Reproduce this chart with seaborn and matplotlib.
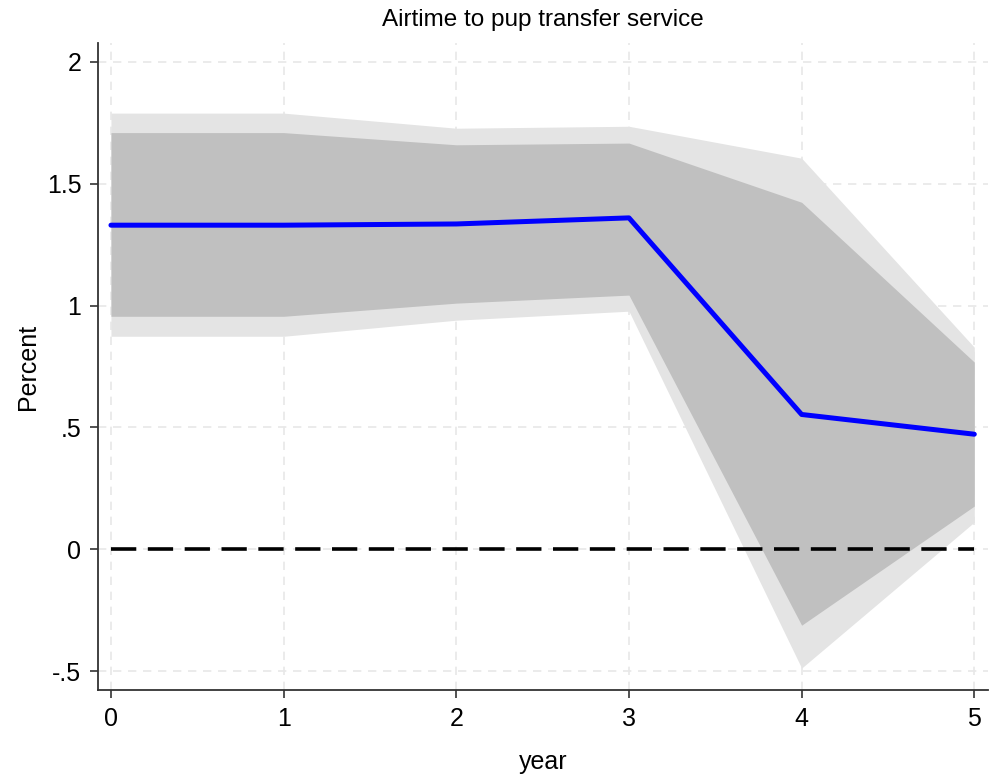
import matplotlib
matplotlib.use("Agg")
import matplotlib.pyplot as plt
import seaborn as sns
import pandas as pd
from matplotlib import font_manager

years = [0, 1, 2, 3, 4, 5]
irf = [1.33, 1.33, 1.335, 1.36, 0.553, 0.472]
inner_upper = [1.71, 1.71, 1.66, 1.667, 1.424, 0.768]
inner_lower = [0.956, 0.956, 1.01, 1.043, -0.312, 0.177]
outer_upper = [1.79, 1.79, 1.728, 1.736, 1.605, 0.829]
outer_lower = [0.874, 0.874, 0.94, 0.977, -0.488, 0.111]
yticks = [-0.5, 0, 0.5, 1, 1.5, 2]
ytick_labels = ["-.5", "0", ".5", "1", "1.5", "2"]
xticks = [0, 1, 2, 3, 4, 5]

sns.set_theme(style="white")
names = {f.name for f in font_manager.fontManager.ttflist}
fam = "Liberation Sans Narrow" if "Liberation Sans Narrow" in names else "Liberation Sans"
plt.rcParams["font.family"] = [fam, "DejaVu Sans"]
plt.rcParams["text.color"] = "black"
plt.rcParams["axes.labelcolor"] = "black"
plt.rcParams["xtick.color"] = "black"
plt.rcParams["ytick.color"] = "black"

df = pd.DataFrame({"year": years, "irf": irf, "zero": [0] * len(years)})

fig = plt.figure(figsize=(9.99, 7.81), dpi=100)
ax = fig.add_axes([0.0981, 0.1165, 0.891, 0.8285])

ax.fill_between(years, outer_lower, outer_upper, color="#e4e4e4", lw=0, zorder=1)
ax.fill_between(years, inner_lower, inner_upper, color="#c0c0c0", lw=0, zorder=2)
sns.lineplot(data=df, x="year", y="zero", ax=ax, color="black", lw=2.6,
             dashes=False, zorder=3)
ax.lines[-1].set_dashes([7, 3.2])
sns.lineplot(data=df, x="year", y="irf", ax=ax, color="#0000ff", lw=3.6, zorder=4)

ax.set_xlim(-0.075, 5.08)
ax.set_ylim(-0.578, 2.078)
ax.set_xticks(xticks)
ax.set_xticklabels([str(x) for x in xticks], fontsize=18)
ax.set_yticks(yticks)
ax.set_yticklabels(ytick_labels, fontsize=18)
ax.grid(True, color="#e8e8e8", lw=1.2, ls=(0, (5, 4)), zorder=0)
ax.set_axisbelow(True)
for s in ["top", "right"]:
    ax.spines[s].set_visible(False)
for s in ["left", "bottom"]:
    ax.spines[s].set_color("#333333")
    ax.spines[s].set_linewidth(1.3)
ax.tick_params(axis="both", direction="out", length=6, width=1.2, color="#333333",
               left=True, bottom=True, pad=6)
ax.set_xlabel("year", fontsize=18, labelpad=14)
ax.set_ylabel("Percent", fontsize=18)
ax.yaxis.set_label_coords(-0.065, 0.5)
ax.set_title("Airtime to pup transfer service", fontsize=17.5, pad=12)

fig.savefig("out.png", dpi=100)
